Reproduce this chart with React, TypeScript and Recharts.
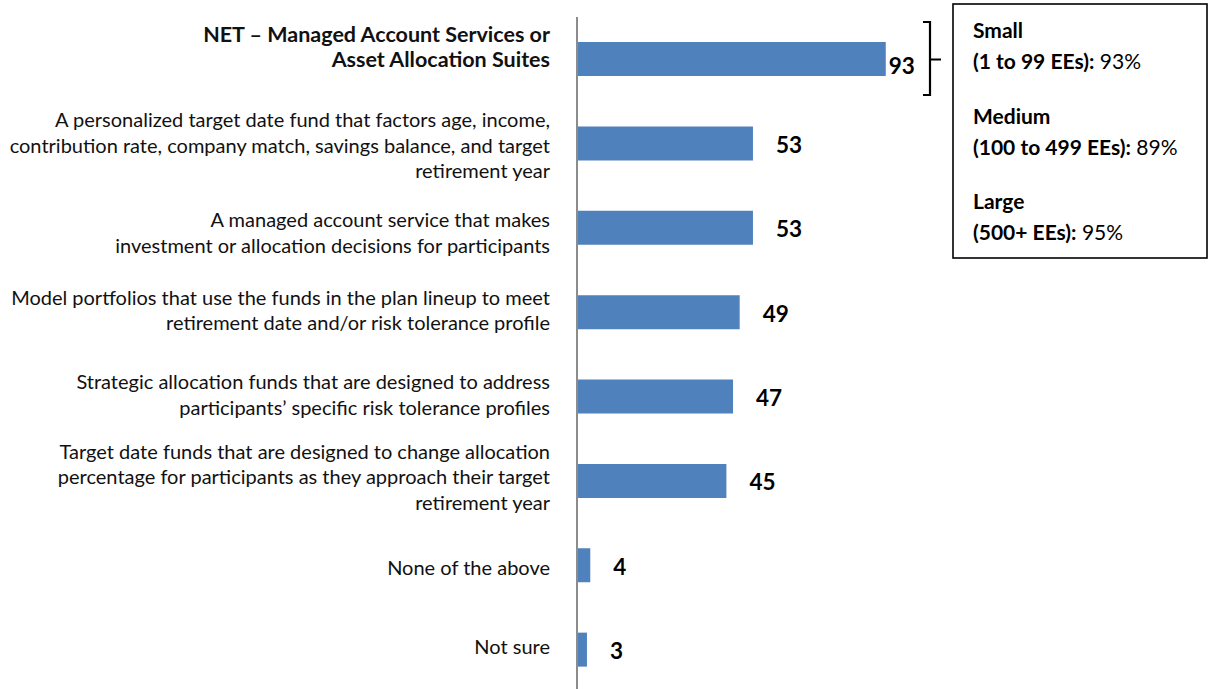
import { BarChart, Bar, XAxis, YAxis, LabelList } from 'recharts';

const CATEGORIES = [
  'NET – Managed Account Services or\nAsset Allocation Suites',
  'A personalized target date fund that factors age, income,\ncontribution rate, company match, savings balance, and target\nretirement year',
  'A managed account service that makes\ninvestment or allocation decisions for participants',
  'Model portfolios that use the funds in the plan lineup to meet\nretirement date and/or risk tolerance profile',
  'Strategic allocation funds that are designed to address\nparticipants’ specific risk tolerance profiles',
  'Target date funds that are designed to change allocation\npercentage for participants as they approach their target\nretirement year',
  'None of the above',
  'Not sure',
];
const VALUES = [93, 53, 53, 49, 47, 45, 4, 3];

const SEGMENTS = ['Small', 'Medium', 'Large'];
const SEGMENT_SIZES = ['(1 to 99 EEs):', '(100 to 499 EEs):', '(500+ EEs):'];
const SEGMENT_VALUES = [93, 89, 95];

const data = CATEGORIES.map((name, i) => ({ name, value: VALUES[i] }));

const FONT = 'Lato, "Open Sans", sans-serif';
const LABEL_SIZE = 20;
const LINE_HEIGHT = 25.5;
// small vertical nudges so wrapped labels sit where the report placed them
const TICK_NUDGE = [-12, 2, 5, -2, -2, -4, 2, -3];

function CategoryTick(props: any) {
  const { x, y, payload } = props;
  const idx = CATEGORIES.indexOf(payload.value);
  const lines = String(payload.value).split('\n');
  const top = y + (TICK_NUDGE[idx] ?? 0) - ((lines.length - 1) * LINE_HEIGHT) / 2;
  const bold = idx === 0;
  return (
    <text
      textAnchor="end"
      fontFamily={FONT}
      fontSize={bold ? 21.5 : LABEL_SIZE}
      fontWeight={bold ? 700 : 400}
      fill="#111"
    >
      {lines.map((line, i) => (
        <tspan key={i} x={x} y={top + i * LINE_HEIGHT + LABEL_SIZE * 0.36}>
          {line}
        </tspan>
      ))}
    </text>
  );
}

function ValueLabel(props: any) {
  const { x, y, width, height, value, index } = props;
  const first = index === 0;
  return (
    <text
      x={x + width + (first ? 3 : 23)}
      y={y + height / 2 + (first ? 7 : 1.5) + 8}
      fontFamily={FONT}
      fontSize={22.5}
      fontWeight={700}
      fill="#000"
    >
      {value}
    </text>
  );
}

function SegmentBox() {
  const baselines = [38, 124, 209];
  return (
    <svg
      width={1209}
      height={689}
      style={{ position: 'absolute', left: 0, top: 0, pointerEvents: 'none' }}
    >
      {/* brace tying the NET bar to the size breakdown */}
      <path
        d="M923 22 H930 V95 H923 M930 59.5 H941"
        fill="none"
        stroke="#000"
        strokeWidth={2.2}
      />
      <rect x={953} y={4} width={254} height={254} fill="#fff" stroke="#000" strokeWidth={1.6} />
      {SEGMENTS.map((seg, i) => (
        <g key={seg} fontFamily={FONT} fontSize={21} fill="#000">
          <text x={973} y={baselines[i]} fontWeight={700}>
            {seg}
          </text>
          <text x={973} y={baselines[i] + 31}>
            <tspan fontWeight={700}>{SEGMENT_SIZES[i]}</tspan>
            <tspan> {SEGMENT_VALUES[i]}%</tspan>
          </text>
        </g>
      ))}
    </svg>
  );
}

export default function App() {
  return (
    <div
      style={{
        position: 'absolute',
        left: 0,
        top: 0,
        width: 1209,
        height: 689,
        overflow: 'hidden',
        background: '#fff',
      }}
    >
      <BarChart
        width={1209}
        height={692}
        data={data}
        layout="vertical"
        margin={{ top: 17, right: 300, bottom: 0, left: 0 }}
      >
        <XAxis type="number" domain={[0, 100]} hide />
        <YAxis
          type="category"
          dataKey="name"
          width={577}
          tickSize={0}
          tickMargin={27}
          tickLine={false}
          axisLine={{ stroke: '#8c8c8c', strokeWidth: 2 }}
          tick={<CategoryTick />}
          interval={0}
        />
        <Bar dataKey="value" fill="#4F81BD" barSize={34} isAnimationActive={false}>
          <LabelList dataKey="value" content={<ValueLabel />} />
        </Bar>
      </BarChart>
      <SegmentBox />
    </div>
  );
}
